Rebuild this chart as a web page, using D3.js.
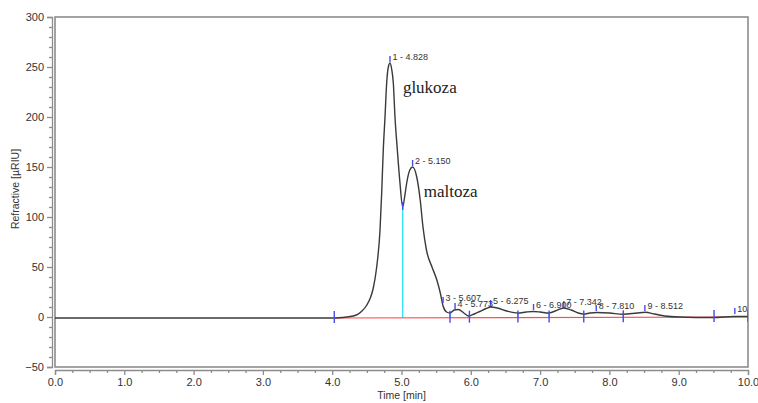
<!DOCTYPE html>
<html><head><meta charset="utf-8">
<script src="https://cdn.jsdelivr.net/npm/d3@7"></script>
<style>body{margin:0;background:#fff}svg{display:block}text{font-family:"Liberation Sans",Arial,sans-serif}</style>
</head><body>
<svg id="c" width="758" height="403"></svg>
<script>
// ---- data ----
const time   = [0,1,2,3,4.0,4.10,4.21,4.35,4.43,4.50,4.55,4.593,4.642,4.69,4.714,4.737,4.762,4.786,4.81,4.834,4.858,4.882,4.906,4.94,4.978,5.017,5.045,5.075,5.12,5.16,5.22,5.27,5.31,5.36,5.44,5.51,5.56,5.60,5.65,5.70,5.76,5.82,5.90,5.97,6.05,6.13,6.22,6.29,6.38,6.52,6.68,6.80,6.90,7.00,7.12,7.22,7.34,7.45,7.55,7.63,7.72,7.82,8.00,8.20,8.40,8.52,8.65,8.80,9.00,9.50,9.80,10];
const signal = [-1,-1,-1,-1,-1,-0.8,0,2,6,12,19,29,50,87,124,167,200,234,250,254,248,234,200,167,134,110,120,134,147,150,140,117,90,67,50,37,24,11,5,4,7,7.5,4,1,3,5.5,8.5,10,9,6,4,5,5.5,5,4,6,9,7,4,3,4,4.5,4,2.7,4,4.7,3,1,0,-0.5,0.5,0.5];
const baseTime  = [4.03, 10];
const baseValue = [-1, 0];
const peakNames  = ["1 - 4.828","2 - 5.150","3 - 5.607","4 - 5.773","5 - 6.275","6 - 6.900","7 - 7.342","8 - 7.810","9 - 8.512","10"];
const peakTimes  = [4.834,5.16,5.60,5.773,6.285,6.905,7.342,7.810,8.512,9.81];
const peakValues = [254,150,13,7,10,6,9,5,5,2];
const boundaryTimes  = [4.03,5.017,5.70,5.98,6.68,7.13,7.63,8.20,9.51,10.0];
const boundaryValues = [-1,110,4,1,4,4,3,2.7,-0.5,0.5];
const annotations = [{text:"glukoza", t:5.02, v:224},{text:"maltoza", t:5.32, v:120}];
const xTicks = [0,1,2,3,4,5,6,7,8,9,10];
const yTicks = [-50,0,50,100,150,200,250,300];

const svg = d3.select("#c");
const L=55,R=748,T=17,B=367;
const x = d3.scaleLinear().domain([0,10]).range([L,R]);
const y = d3.scaleLinear().domain([-50,300]).range([B,T]);
const grey="#8c8c8c", txt="#333";

svg.append("defs").append("clipPath").attr("id","clip").append("rect")
  .attr("x",L).attr("y",T).attr("width",R-L).attr("height",B-T);

// frame
svg.append("rect").attr("x",L).attr("y",T).attr("width",R-L).attr("height",B-T)
  .attr("fill","none").attr("stroke",grey).attr("stroke-width",1.6);

// y axis
svg.append("g").attr("transform",`translate(${L-3},0)`)
  .call(d3.axisLeft(y).tickValues(yTicks).tickSize(5).tickPadding(3).tickFormat(d3.format("d")));
svg.append("g").attr("transform",`translate(${L-3},0)`)
  .call(d3.axisLeft(y).tickValues(d3.range(-50,301,10).filter(v=>v%50!==0)).tickSize(3).tickFormat(""))
  .call(g=>g.select(".domain").remove());
// x axis
svg.append("g").attr("transform",`translate(0,${B+3})`)
  .call(d3.axisBottom(x).tickValues(xTicks).tickSize(5).tickPadding(3).tickFormat(d3.format(".1f")));
svg.append("g").attr("transform",`translate(0,${B+3})`)
  .call(d3.axisBottom(x).tickValues(d3.range(0,10.01,0.25).filter(v=>Math.abs(v-Math.round(v))>0.01)).tickSize(3).tickFormat(""))
  .call(g=>g.select(".domain").remove());
svg.selectAll(".domain,.tick line").attr("stroke",grey).attr("stroke-width",1.3);
svg.selectAll(".tick text").attr("fill",txt).style("font-size","11px");

svg.append("text").attr("x",(L+R)/2).attr("y",399).attr("text-anchor","middle")
  .attr("fill",txt).style("font-size","10.5px").text("Time [min]");
svg.append("text").attr("transform",`translate(19,${(T+B)/2-3}) rotate(-90)`).attr("text-anchor","middle")
  .attr("fill",txt).style("font-size","10.5px").text("Refractive  [µRIU]");

const plot = svg.append("g").attr("clip-path","url(#clip)");

// cyan drop lines
const iv = d3.scaleLinear().domain(baseTime).range(baseValue);
plot.selectAll(".drop").data(boundaryTimes.slice(1,-1)).join("line")
  .attr("x1",d=>x(d)).attr("x2",d=>x(d))
  .attr("y1",(d,i)=>y(boundaryValues[i+1])).attr("y2",d=>y(iv(d)))
  .attr("stroke","#33e6f0").attr("stroke-width",1.4);

// baseline
plot.append("line").attr("x1",x(baseTime[0])).attr("x2",x(baseTime[1]))
  .attr("y1",y(baseValue[0])).attr("y2",y(baseValue[1]))
  .attr("stroke","#ff4d4d").attr("stroke-width",1.2);

// signal
const pts = time.map((t,i)=>[t,signal[i]]);
plot.append("path").datum(pts)
  .attr("d",d3.line().x(d=>x(d[0])).y(d=>y(d[1])).curve(d3.curveMonotoneX))
  .attr("fill","none").attr("stroke","#3a3a3a").attr("stroke-width",1.4);

// boundary ticks
plot.selectAll(".bt").data(boundaryTimes).join("line")
  .attr("x1",d=>x(d)).attr("x2",d=>x(d))
  .attr("y1",(d,i)=> i===1 ? y(boundaryValues[i])-5 : y(iv(d))-7)
  .attr("y2",(d,i)=> i===1 ? y(boundaryValues[i])+3 : y(iv(d))+5)
  .attr("stroke","#4a4ae8").attr("stroke-width",1.4);

// peak markers and labels
plot.selectAll(".pm").data(peakTimes).join("line")
  .attr("x1",d=>x(d)).attr("x2",d=>x(d))
  .attr("y1",(d,i)=>y(peakValues[i])-1).attr("y2",(d,i)=>y(peakValues[i])-7)
  .attr("stroke","#4a4ae8").attr("stroke-width",1.4);
plot.selectAll(".pl").data(peakTimes).join("text")
  .attr("x",d=>x(d)+2.5).attr("y",(d,i)=>y(peakValues[i])-3.5)
  .attr("fill","#333").style("font-size","9px").text((d,i)=>peakNames[i]);

// compound annotations
svg.selectAll(".ann").data(annotations).join("text")
  .attr("x",d=>x(d.t)).attr("y",d=>y(d.v))
  .attr("fill","#222").style("font-family",'"Liberation Serif","Times New Roman",serif')
  .style("font-size","17px").text(d=>d.text);
</script>
</body></html>
